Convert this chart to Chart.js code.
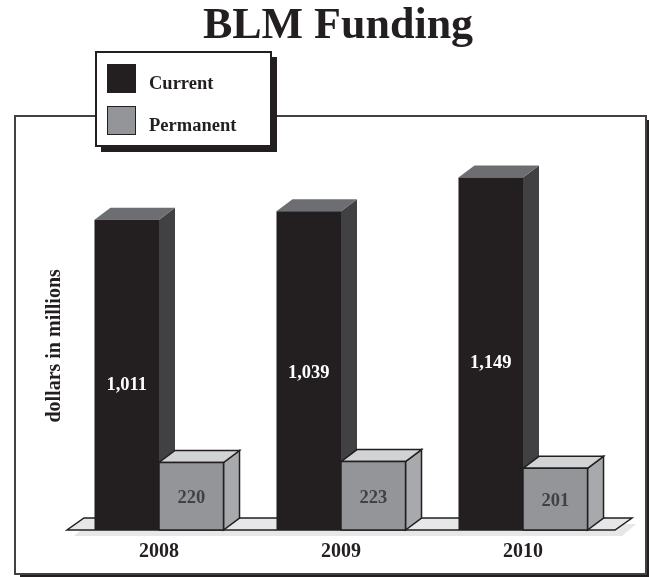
<!DOCTYPE html>
<html>
<head>
<meta charset="utf-8">
<title>BLM Funding</title>
<script src="https://cdn.jsdelivr.net/npm/chart.js@4/dist/chart.umd.min.js"></script>
<style>
html, body { margin: 0; padding: 0; background: #fff; }
canvas { display: block; }
</style>
</head>
<body>
<canvas id="chart" width="649" height="577"></canvas>
<script>
const years = ['2008', '2009', '2010'];
const currentFunding = [1011, 1039, 1149];
const permanentFunding = [220, 223, 201];

const SERIF = '"Liberation Serif", serif';
const INK = '#231f20';
const DEPTH_X = 16;
const DEPTH_Y = 12;

// labels in the source sit a little under the middle of the tall bars
const labelNudge = [[10, 3, 9], [2, 2, 2]];

const faceColors = [
    { front: '#231f20', top: '#6d6e71', side: '#414042', line: '#231f20', label: '#ffffff' },
    { front: '#939598', top: '#d1d3d4', side: '#a7a9ac', line: '#231f20', label: '#414042' }
];

const poly = (ctx, pts, fill, stroke) => {
    ctx.beginPath();
    pts.forEach(([x, y], i) => (i ? ctx.lineTo(x, y) : ctx.moveTo(x, y)));
    ctx.closePath();
    if (fill) {
        ctx.fillStyle = fill;
        ctx.fill();
    }
    if (stroke) {
        ctx.strokeStyle = stroke;
        ctx.lineWidth = 1.5;
        ctx.stroke();
    }
};

const drawFrame = ctx => {
    ctx.fillStyle = INK;
    ctx.fillRect(20, 120, 629, 457);
    ctx.fillStyle = '#fff';
    ctx.fillRect(14, 115, 632, 459);
    ctx.strokeStyle = '#414042';
    ctx.lineWidth = 2;
    ctx.strokeRect(15, 116, 631, 458);
};

const drawLegend = (ctx, chart) => {
    ctx.fillStyle = INK;
    ctx.fillRect(101, 57, 176, 95);
    ctx.fillStyle = '#fff';
    ctx.fillRect(96, 52, 175, 94);
    ctx.strokeStyle = INK;
    ctx.lineWidth = 2;
    ctx.strokeRect(96, 52, 175, 94);

    chart.data.datasets.forEach((ds, i) => {
        const y = 64 + i * 42;
        ctx.fillStyle = faceColors[i].front;
        ctx.fillRect(107, y, 29, 29);
        ctx.strokeStyle = INK;
        ctx.lineWidth = 1;
        ctx.strokeRect(107.5, y + 0.5, 28, 28);
        ctx.fillStyle = INK;
        ctx.font = `bold 18.5px ${SERIF}`;
        ctx.textAlign = 'left';
        ctx.textBaseline = 'middle';
        ctx.fillText(ds.label, 149, y + 20);
    });
};

const drawFloor = (ctx, chart) => {
    const { left, right, bottom } = chart.chartArea;
    poly(ctx, [[left + 6, bottom + 6], [right + 8, bottom + 6], [right + 22, bottom - 6], [left + 20, bottom - 6]], '#e6e7e8');
    poly(ctx, [[left - 1, bottom], [right + 1, bottom], [right + 18, bottom - 12], [left + 16, bottom - 12]], '#e6e7e8', INK);
};

const drawBars = (ctx, chart) => {
    // back to front: each category's current bar first, then its permanent bar
    years.forEach((year, index) => {
        chart.data.datasets.forEach((ds, d) => {
            const bar = chart.getDatasetMeta(d).data[index];
            const c = faceColors[d];
            const l = bar.x - bar.width / 2;
            const r = bar.x + bar.width / 2;
            const t = bar.y;
            const b = bar.base;
            const stroke = d === 1 ? c.line : null;
            poly(ctx, [[r, t], [r + DEPTH_X, t - DEPTH_Y], [r + DEPTH_X, b - DEPTH_Y], [r, b]], c.side, stroke);
            poly(ctx, [[l, t], [l + DEPTH_X, t - DEPTH_Y], [r + DEPTH_X, t - DEPTH_Y], [r, t]], c.top, stroke);
            poly(ctx, [[l, t], [r, t], [r, b], [l, b]], c.front, stroke);
        });
    });
    chart.data.datasets.forEach((ds, d) => {
        chart.getDatasetMeta(d).data.forEach((bar, index) => {
            ctx.fillStyle = faceColors[d].label;
            ctx.font = `bold 18.5px ${SERIF}`;
            ctx.textAlign = 'center';
            ctx.textBaseline = 'middle';
            ctx.fillText(ds.data[index].toLocaleString('en-US'), bar.x, (bar.y + bar.base) / 2 + labelNudge[d][index]);
        });
    });
};

const scene = {
    id: 'scene',
    beforeDraw(chart) {
        drawFrame(chart.ctx);
    },
    afterDatasetsDraw(chart) {
        const ctx = chart.ctx;
        ctx.save();
        drawFloor(ctx, chart);
        drawBars(ctx, chart);
        drawLegend(ctx, chart);
        ctx.restore();
    }
};

new Chart(document.getElementById('chart'), {
    type: 'bar',
    data: {
        labels: years,
        datasets: [
            { label: 'Current', data: currentFunding, backgroundColor: 'rgba(0,0,0,0)' },
            { label: 'Permanent', data: permanentFunding, backgroundColor: 'rgba(0,0,0,0)' }
        ]
    },
    plugins: [scene],
    options: {
        responsive: false,
        animation: false,
        layout: { padding: { left: 27, right: 0, top: 0, bottom: 0 } },
        datasets: { bar: { categoryPercentage: 0.709, barPercentage: 1 } },
        scales: {
            x: {
                grid: { display: false, drawTicks: false },
                border: { display: false },
                ticks: { color: INK, font: { family: SERIF, size: 20, weight: 'bold' }, padding: 10, maxRotation: 0 },
                afterFit: scale => { scale.height = 47; }
            },
            y: {
                min: 0,
                max: 1200,
                grid: { display: false, drawTicks: false },
                border: { display: false },
                ticks: { display: false },
                title: {
                    display: true,
                    text: 'dollars in millions',
                    color: INK,
                    font: { family: SERIF, size: 20, weight: 'bold' },
                    padding: { top: 16, bottom: 0 }
                },
                afterFit: scale => { scale.width = 41; }
            },
            // empty axis, keeps the plot clear of the right edge while the title stays centred on the frame
            rightGutter: {
                position: 'right',
                min: 0,
                max: 1200,
                grid: { display: false, drawTicks: false },
                border: { display: false },
                ticks: { display: false },
                afterFit: scale => { scale.width = 35; }
            }
        },
        plugins: {
            legend: { display: false },
            tooltip: { enabled: false },
            title: {
                display: true,
                text: 'BLM Funding',
                color: INK,
                font: { family: SERIF, size: 44, weight: 'bold' },
                padding: { top: 0, bottom: 109 }
            }
        }
    }
});
</script>
</body>
</html>
